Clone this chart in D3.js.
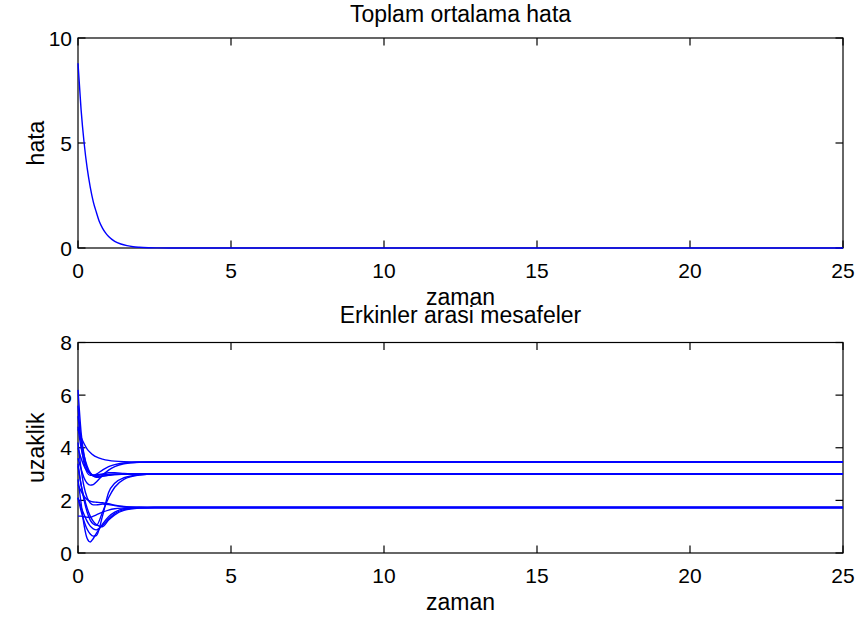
<!DOCTYPE html>
<html>
<head>
<meta charset="utf-8">
<script src="https://cdn.jsdelivr.net/npm/d3@7"></script>
<style>
  body { margin: 0; background: #fff; }
  svg { display: block; font-family: "Liberation Sans", Arial, sans-serif; }
  .frame { fill: none; stroke: #000; stroke-width: 1.2; }
  .tick { stroke: #000; stroke-width: 1.2; }
  .trace { fill: none; stroke: #0000ff; stroke-width: 1.4; }
</style>
</head>
<body>
<svg width="861" height="623"></svg>
<script>
// x axis ticks (both plots)
var xTicks = [0, 5, 10, 15, 20, 25];
var topYTicks = [0, 5, 10];
var bottomYTicks = [0, 2, 4, 6, 8];

// top plot: total mean error
var errTime = [0, 0.1, 0.2, 0.3, 0.4, 0.5, 0.6, 0.7, 0.8, 0.9, 1.0, 1.2, 1.4, 1.6, 1.8, 2.0, 2.3, 2.6, 3.0, 25];
var errValue = [8.8, 6.6, 5.0, 3.8, 2.9, 2.2, 1.7, 1.25, 0.95, 0.72, 0.55, 0.32, 0.19, 0.11, 0.06, 0.035, 0.015, 0.006, 0, 0];

// bottom plot: distances between agents, one array per pair
var distTime = [0, 0.1, 0.2, 0.3, 0.4, 0.5, 0.6, 0.8, 1.0, 1.2, 1.5, 2.0, 2.5, 3.0, 25];
var distA1 = [4.7, 4.4, 4.15, 3.95, 3.82, 3.72, 3.65, 3.57, 3.52, 3.49, 3.47, 3.46, 3.46, 3.46, 3.46];
var distA2 = [6.2, 4.6, 3.7, 3.2, 3.0, 2.95, 3.0, 3.15, 3.28, 3.36, 3.42, 3.45, 3.46, 3.46, 3.46];
var distA3 = [3.6, 3.2, 2.85, 2.65, 2.58, 2.6, 2.7, 2.95, 3.15, 3.28, 3.39, 3.45, 3.46, 3.46, 3.46];
var distB1 = [5.2, 4.3, 3.7, 3.3, 3.05, 2.93, 2.9, 2.92, 2.96, 2.98, 2.99, 3.0, 3.0, 3.0, 3.0];
var distB2 = [4.8, 4.0, 3.5, 3.2, 3.02, 2.92, 2.88, 2.91, 2.95, 2.98, 2.99, 3.0, 3.0, 3.0, 3.0];
var distB3 = [4.0, 3.6, 3.3, 3.12, 3.02, 2.97, 2.95, 2.97, 2.99, 3.0, 3.0, 3.0, 3.0, 3.0, 3.0];
var distB4 = [2.1, 1.6, 1.2, 0.9, 0.72, 0.64, 0.66, 1.4, 2.3, 2.65, 2.86, 2.97, 3.0, 3.0, 3.0];
var distB5 = [5.6, 4.2, 3.4, 3.05, 2.95, 2.95, 2.97, 3.0, 3.05, 3.05, 3.02, 3.0, 3.0, 3.0, 3.0];
var distB6 = [3.4, 2.6, 2.0, 1.55, 1.25, 1.1, 1.05, 1.55, 2.1, 2.5, 2.8, 2.96, 3.0, 3.0, 3.0];
var distC1 = [1.4, 1.4, 1.38, 1.36, 1.36, 1.4, 1.45, 1.55, 1.63, 1.68, 1.71, 1.73, 1.73, 1.73, 1.73];
var distC2 = [2.1, 1.75, 1.45, 1.2, 1.02, 0.92, 0.88, 1.05, 1.3, 1.5, 1.65, 1.72, 1.73, 1.73, 1.73];
var distC3 = [3.3, 2.6, 2.1, 1.7, 1.4, 1.2, 1.08, 1.0, 1.25, 1.45, 1.62, 1.71, 1.73, 1.73, 1.73];
var distC4 = [4.2, 3.2, 2.5, 2.1, 1.9, 1.83, 1.83, 1.86, 1.84, 1.8, 1.76, 1.74, 1.73, 1.73, 1.73];
var distC5 = [2.6, 2.35, 2.15, 2.03, 1.97, 1.94, 1.93, 1.91, 1.87, 1.82, 1.77, 1.74, 1.73, 1.73, 1.73];
var distC6 = [2.8, 1.9, 1.05, 0.55, 0.42, 0.55, 0.75, 1.1, 1.38, 1.55, 1.68, 1.72, 1.73, 1.73, 1.73];
var distSeries = [distA1, distA2, distA3, distB1, distB2, distB3, distB4, distB5, distB6,
                  distC1, distC2, distC3, distC4, distC5, distC6];

var svg = d3.select('svg');
var tickLen = 7.5;
var tickFont = 21;
var labelFont = 23;

var left = 78, right = 843;
var x = d3.scaleLinear().domain([0, 25]).range([left, right]);

function drawPanel(opts) {
  var y = d3.scaleLinear().domain(opts.yDomain).range([opts.bottom, opts.top]);
  var g = svg.append('g');

  var line = d3.line()
    .x(function(d) { return x(d[0]); })
    .y(function(d) { return y(d[1]); })
    .curve(d3.curveMonotoneX);

  g.append('rect')
    .attr('class', 'frame')
    .attr('x', left)
    .attr('y', opts.top)
    .attr('width', right - left)
    .attr('height', opts.bottom - opts.top);

  // inward ticks on all four sides
  xTicks.forEach(function(t) {
    g.append('line').attr('class', 'tick')
      .attr('x1', x(t)).attr('x2', x(t))
      .attr('y1', opts.bottom).attr('y2', opts.bottom - tickLen);
    g.append('line').attr('class', 'tick')
      .attr('x1', x(t)).attr('x2', x(t))
      .attr('y1', opts.top).attr('y2', opts.top + tickLen);
    g.append('text')
      .attr('x', x(t))
      .attr('y', opts.bottom + 30)
      .attr('text-anchor', 'middle')
      .attr('font-size', tickFont)
      .text(t);
  });
  opts.yTicks.forEach(function(t) {
    g.append('line').attr('class', 'tick')
      .attr('x1', left).attr('x2', left + tickLen)
      .attr('y1', y(t)).attr('y2', y(t));
    g.append('line').attr('class', 'tick')
      .attr('x1', right).attr('x2', right - tickLen)
      .attr('y1', y(t)).attr('y2', y(t));
    g.append('text')
      .attr('x', left - 6)
      .attr('y', y(t) + 7.5)
      .attr('text-anchor', 'end')
      .attr('font-size', tickFont)
      .text(t);
  });

  // traces drawn after the frame so the flat tail covers the axis line
  opts.series.forEach(function(s) {
    g.append('path')
      .attr('class', 'trace')
      .attr('d', line(d3.zip(opts.time, s)));
  });

  g.append('text')
    .attr('x', (left + right) / 2)
    .attr('y', opts.titleY)
    .attr('text-anchor', 'middle')
    .attr('font-size', labelFont)
    .text(opts.title);

  g.append('text')
    .attr('x', (left + right) / 2)
    .attr('y', opts.bottom + 57)
    .attr('text-anchor', 'middle')
    .attr('font-size', labelFont)
    .text(opts.xLabel);

  g.append('text')
    .attr('transform', 'translate(44,' + ((opts.top + opts.bottom) / 2) + ') rotate(-90)')
    .attr('text-anchor', 'middle')
    .attr('font-size', labelFont)
    .text(opts.yLabel);
}

drawPanel({
  top: 38, bottom: 248,
  yDomain: [0, 10],
  yTicks: topYTicks,
  time: errTime,
  series: [errValue],
  title: 'Toplam ortalama hata',
  titleY: 22,
  xLabel: 'zaman',
  yLabel: 'hata'
});

drawPanel({
  top: 342.5, bottom: 553,
  yDomain: [0, 8],
  yTicks: bottomYTicks,
  time: distTime,
  series: distSeries,
  title: 'Erkinler arasi mesafeler',
  titleY: 323,
  xLabel: 'zaman',
  yLabel: 'uzaklik'
});
</script>
</body>
</html>
